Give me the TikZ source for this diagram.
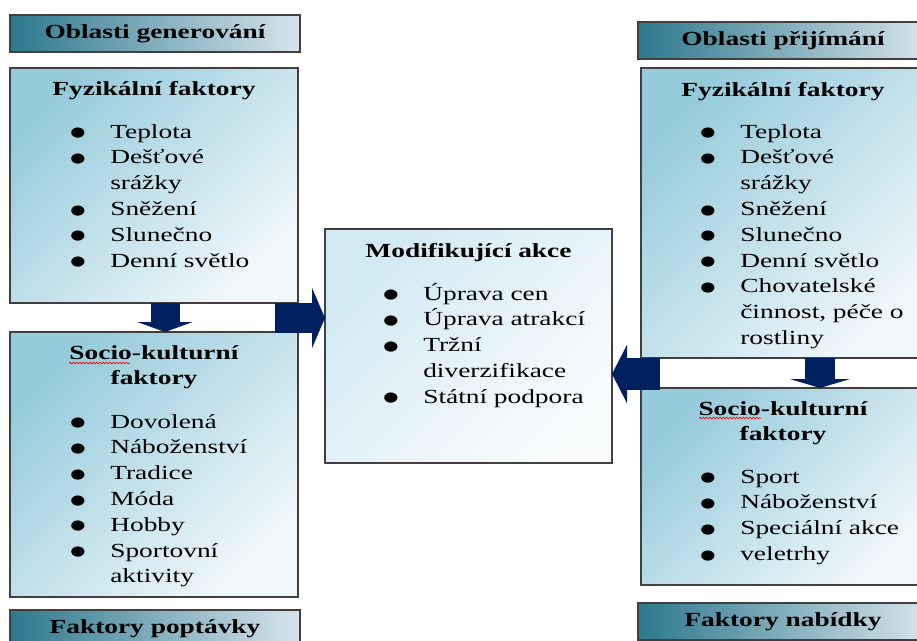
\documentclass[tikz,border=0pt]{standalone}
\usepackage{fontspec}
\setmainfont[FakeStretch=1.37]{Liberation Serif}
\newfontfamily\bulfont[FakeStretch=1.3]{DejaVu Sans}
\usepackage{tikz}
\usetikzlibrary{arrows.meta}
\usetikzlibrary{calc}
\usetikzlibrary{decorations.pathmorphing}
\definecolor{navy}{HTML}{002060}
\definecolor{bardark}{RGB}{45,120,142}
\definecolor{barlight}{RGB}{215,228,234}
\definecolor{boxdark}{RGB}{150,203,219}
\definecolor{boxlight}{RGB}{240,247,250}
\definecolor{midtop}{RGB}{210,233,242}
\definecolor{midlow}{RGB}{248,252,253}
\newcommand{\diafont}{\fontsize{15pt}{19.35pt}\selectfont}
\newcommand{\bul}{\raisebox{1pt}{\bulfont\fontsize{10pt}{10pt}\selectfont ●}}
\newcommand{\itm}[1]{\makebox[30pt][l]{\bul}#1}
\newcommand{\cnt}[1]{\hspace*{30pt}#1}
\tikzset{
  pane/.style={draw=black!75, line width=1pt, top color=boxdark, bottom color=boxlight,
    shading angle=45, inner sep=0pt, outer sep=0pt, anchor=north west},
  midpane/.style={pane, top color=midtop, bottom color=midlow, shading angle=45},
  bar/.style={draw=black!75, line width=1pt, left color=bardark, right color=barlight,
    inner sep=0pt, outer sep=0pt, anchor=north west, font=\diafont\bfseries,
    minimum width=217.5pt, minimum height=27.75pt},
  head/.style={anchor=base, font=\diafont\bfseries, align=center, text width=210pt, inner sep=0pt},
  lst/.style={anchor=base west, font=\diafont, align=left, text width=170pt, inner sep=0pt},
  blockarr/.style n args={3}{line width=#1, navy, -{Triangle[width=#2, length=#3]}},
  squiggle/.style={red, line width=0.5pt, decorate, decoration={snake, amplitude=0.6pt, segment length=2.5pt}}
}
\begin{document}
\begin{tikzpicture}[x=0.75pt, y=-0.75pt]
\clip (0,0) rectangle (917,640);

\node[bar] (barGen) at (10,15) {Oblasti generování};
\node[pane, minimum width=216pt, minimum height=176.25pt] (fyzL) at (10,68) {};
\node[pane, minimum width=216pt, minimum height=198.75pt] (socL) at (10,332) {};
\node[bar] (barPop) at (10,610) {Faktory poptávky};

\node[midpane, minimum width=215.25pt, minimum height=175.5pt] (mod) at (325,229) {};

\node[bar] (barPri) at (638,22) {Oblasti přijímání};
\node[pane, minimum width=217.5pt, minimum height=217.5pt] (fyzR) at (641,68) {};
\node[pane, minimum width=217.5pt, minimum height=147.75pt] (socR) at (641,388) {};
\node[bar] (barNab) at (638,603) {Faktory nabídky};

\node[head] (tFyzL) at ($(fyzL.north)+(0,27)$) {Fyzikální faktory};
\node[lst] (lFyzL) at ($(fyzL.north west)+(60,70)$) {\itm{Teplota}\\ \itm{Dešťové}\\ \cnt{srážky}\\
  \itm{Sněžení}\\ \itm{Slunečno}\\ \itm{Denní světlo}};

\node[head] (tSocL) at ($(socL.north)+(0,27)$) {Socio-kulturní\\faktory};
\node[lst] (lSocL) at ($(socL.north west)+(60,96)$) {\itm{Dovolená}\\ \itm{Náboženství}\\ \itm{Tradice}\\
  \itm{Móda}\\ \itm{Hobby}\\ \itm{Sportovní}\\ \cnt{aktivity}};

\node[head] (tMod) at ($(mod.north)+(0,28)$) {Modifikující akce};
\node[lst] (lMod) at ($(mod.north west)+(58,71)$) {\itm{Úprava cen}\\ \itm{Úprava atrakcí}\\ \itm{Tržní}\\
  \cnt{diverzifikace}\\ \itm{Státní podpora}};

\node[head] (tFyzR) at ($(fyzR.north)+(-3,28)$) {Fyzikální faktory};
\node[lst] (lFyzR) at ($(fyzR.north west)+(59,70)$) {\itm{Teplota}\\ \itm{Dešťové}\\ \cnt{srážky}\\
  \itm{Sněžení}\\ \itm{Slunečno}\\ \itm{Denní světlo}\\ \itm{Chovatelské}\\ \cnt{činnost, péče o}\\ \cnt{rostliny}};

\node[head] (tSocR) at ($(socR.north)+(-3,27)$) {Socio-kulturní\\faktory};
\node[lst] (lSocR) at ($(socR.north west)+(59,95)$) {\itm{Sport}\\ \itm{Náboženství}\\ \itm{Speciální akce}\\ \itm{veletrhy}};

\draw[squiggle] ($(socL.north west)+(59,31)$) -- ($(socL.north west)+(120,31)$);
\draw[squiggle] ($(socR.north west)+(58,30)$) -- ($(socR.north west)+(120,30)$);

\coordinate (aL) at ($(fyzL.south)+(11,0)$);
\coordinate (bL) at ($(fyzL.south east)+(-23,15)$);
\coordinate (aR) at ($(fyzR.south west)+(179,0)$);
\coordinate (bR) at ($(fyzR.south west)+(19,16)$);
\draw[blockarr={21.75pt}{41.25pt}{7.5pt}] (aL) -- (aL |- socL.north);
\draw[blockarr={22.5pt}{45pt}{9.75pt}] (bL) -- (bL -| mod.west);
\draw[blockarr={22.5pt}{45pt}{6.75pt}] (aR) -- (aR |- socR.north);
\draw[blockarr={24pt}{43.5pt}{11.25pt}] (bR) -- (bR -| mod.east);
\end{tikzpicture}
\end{document}
